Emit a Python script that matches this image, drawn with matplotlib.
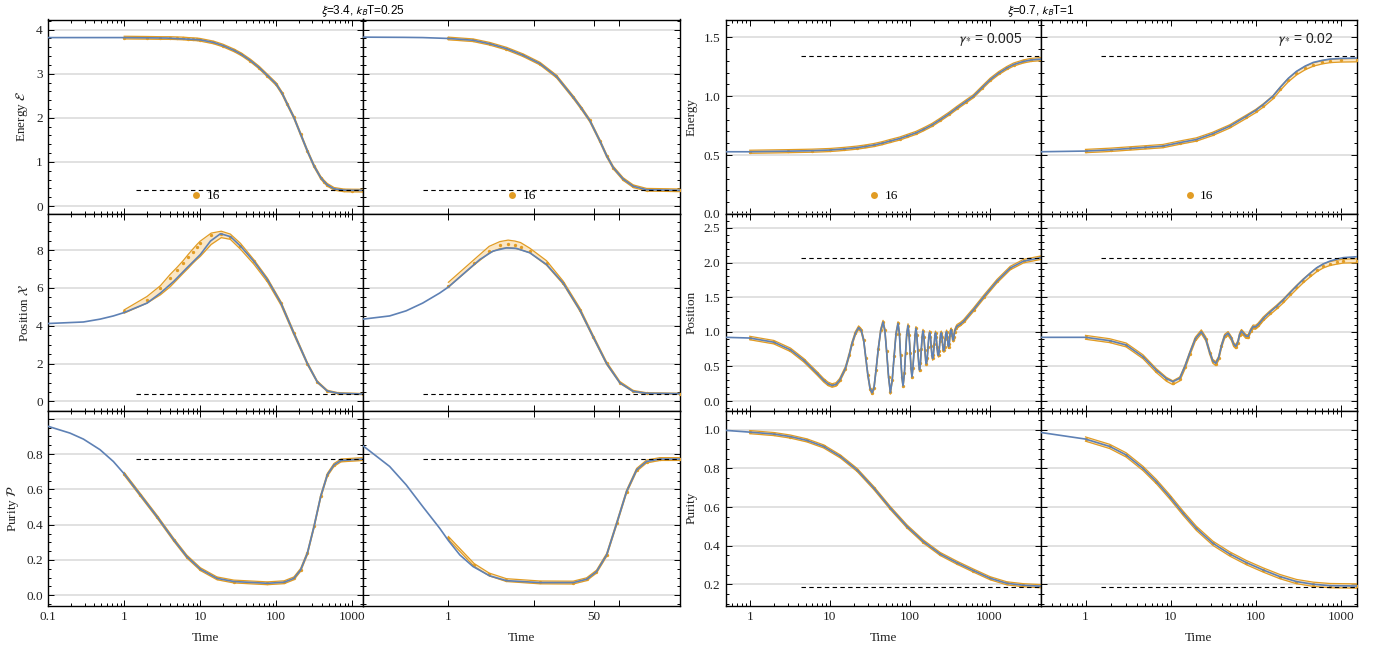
import numpy as np
import matplotlib
matplotlib.use("Agg")
import matplotlib.pyplot as plt
from matplotlib.ticker import (FixedLocator, FixedFormatter, NullLocator,
                               LogLocator, MultipleLocator, FormatStrFormatter)
from matplotlib.lines import Line2D

# ======================= DATA =======================
# ---- left group: xi=3.4, kBT=0.25 ----
# column A (log time 0.1 .. 1400)
tA_E = [0.1, 1, 3.6, 10, 15, 20, 28, 35, 46, 60, 77, 100, 120, 141, 172, 211, 259, 317, 388, 430, 475, 582, 789, 1000, 1400]
EA = [3.82, 3.82, 3.81, 3.77, 3.71, 3.64, 3.53, 3.44, 3.30, 3.14, 2.96, 2.77, 2.56, 2.31, 2.01, 1.63, 1.25, 0.91, 0.645,
      0.555, 0.48, 0.39, 0.36, 0.357, 0.357]
tA_E16 = [1, 2, 3, 4, 5, 6, 7, 8, 9, 10, 15, 20, 28, 35, 46, 60, 77, 100, 120, 141, 172, 211, 259, 317, 388, 430, 475,
          582, 789, 1000, 1400]
EA16 = [3.82, 3.815, 3.81, 3.81, 3.805, 3.80, 3.79, 3.785, 3.78, 3.77, 3.71, 3.64, 3.53, 3.44, 3.30, 3.14, 2.96, 2.77,
        2.56, 2.31, 2.01, 1.63, 1.25, 0.91, 0.645, 0.555, 0.48, 0.39, 0.355, 0.352, 0.35]
EA16_err = 0.03

tA_X = [0.1, 0.29, 0.48, 0.72, 1, 2, 3, 4.5, 6.7, 10.1, 13.7, 18.6, 25.2, 34.1, 51, 77, 116, 172, 259, 350, 475, 660, 1400]
XA = [4.12, 4.20, 4.35, 4.52, 4.70, 5.20, 5.73, 6.35, 7.06, 7.77, 8.48, 8.87, 8.71, 8.21, 7.41, 6.44, 5.20, 3.60, 2.00,
      1.03, 0.55, 0.43, 0.39]
tA_X16 = [1, 2, 3, 4, 5, 6, 7, 8, 9, 10, 14, 19, 25, 34, 51, 77, 116, 172, 259, 350, 475, 660, 1400]
XA16 = [4.76, 5.37, 5.98, 6.53, 6.97, 7.33, 7.65, 7.92, 8.18, 8.40, 8.78, 8.86, 8.72, 8.22, 7.40, 6.42, 5.20, 3.60,
        2.00, 1.03, 0.55, 0.43, 0.39]
XA16_hi = [4.84, 5.55, 6.12, 6.70, 7.10, 7.45, 7.78, 8.05, 8.28, 8.47, 8.90, 9.00, 8.85, 8.36, 7.50, 6.52, 5.28, 3.68,
           2.06, 1.08, 0.59, 0.46, 0.42]
XA16_lo = [4.67, 5.20, 5.64, 6.05, 6.45, 6.78, 7.05, 7.30, 7.50, 7.66, 8.30, 8.66, 8.57, 8.05, 7.26, 6.32, 5.10, 3.52,
           1.94, 0.99, 0.52, 0.40, 0.36]

tA_P = [0.1, 0.193, 0.29, 0.48, 0.72, 1, 1.63, 2.7, 4.5, 6.7, 10.1, 16.7, 27.8, 77, 128, 172, 211, 259, 317, 388, 475,
        582, 718, 1400]
PA = [0.957, 0.919, 0.885, 0.825, 0.758, 0.688, 0.569, 0.446, 0.314, 0.219, 0.148, 0.096, 0.078, 0.068, 0.074, 0.096,
      0.144, 0.238, 0.39, 0.56, 0.683, 0.739, 0.764, 0.772]
PA16_err = 0.008

# column B (log time 0.1 .. 515, ticks 1, 10, 50, 100)
tB_E = [0.1, 0.3, 0.5, 1, 1.94, 3.05, 4.78, 7.5, 11.8, 18.4, 28.9, 36, 45.2, 59.3, 71.3, 85.3, 111.5, 146, 209, 515]
EB = [3.83, 3.825, 3.82, 3.80, 3.76, 3.68, 3.57, 3.42, 3.23, 2.94, 2.47, 2.22, 1.94, 1.48, 1.14, 0.87, 0.61, 0.45,
      0.37, 0.357]
EB16_err = 0.03

tB_X = [0.1, 0.205, 0.32, 0.5, 0.79, 1, 1.62, 2.33, 3.33, 4.78, 6.26, 8.97, 14.1, 22.1, 34.6, 49.5, 71.3, 102, 146,
        209, 515]
XB = [4.35, 4.52, 4.79, 5.20, 5.73, 6.05, 6.88, 7.50, 7.95, 8.12, 8.09, 7.86, 7.24, 6.26, 4.84, 3.42, 2.00, 0.98, 0.53,
      0.43, 0.41]
tB_X16 = [1, 2, 3, 4, 5, 6, 7, 9, 14.1, 22.1, 34.6, 49.5, 71.3, 102, 146, 209, 515]
XB16 = [6.12, 7.33, 7.95, 8.25, 8.34, 8.28, 8.18, 7.98, 7.32, 6.28, 4.86, 3.43, 2.01, 1.00, 0.54, 0.43, 0.41]
XB16_hi = [6.30, 7.50, 8.20, 8.45, 8.53, 8.48, 8.40, 8.10, 7.44, 6.36, 4.94, 3.50, 2.08, 1.05, 0.58, 0.46, 0.43]
XB16_lo = [6.05, 7.22, 7.85, 8.08, 8.12, 8.10, 8.02, 7.86, 7.20, 6.20, 4.78, 3.36, 1.95, 0.95, 0.51, 0.41, 0.39]

tB_P = [0.1, 0.205, 0.32, 0.5, 0.79, 1, 1.36, 1.94, 3.05, 4.78, 11.8, 28.9, 41.5, 54.2, 71.3, 93.5, 122, 160, 209,
        300, 515]
PB = [0.847, 0.73, 0.626, 0.503, 0.38, 0.31, 0.229, 0.163, 0.11, 0.083, 0.072, 0.072, 0.091, 0.134, 0.229, 0.408,
      0.588, 0.711, 0.758, 0.772, 0.772]
tB_P16 = [1, 2, 3, 4.78, 11.8, 28.9, 41.5, 54.2, 71.3, 93.5, 122, 160, 209, 300, 515]
PB16 = [0.325, 0.172, 0.118, 0.086, 0.073, 0.072, 0.091, 0.134, 0.229, 0.408, 0.588, 0.711, 0.758, 0.772, 0.772]
PB16_err = 0.008

# ---- right group: xi=0.7, kBT=1 ----
# column C (gamma*=0.005)
tC_E = [0.5, 1, 3, 6, 10.2, 15, 21.9, 28, 35.7, 45, 57.6, 75, 93, 120, 149, 190, 241, 310, 389, 500, 628, 800, 1020,
        1300, 1640, 2000, 2650, 3300, 4400]
EC = [0.528, 0.528, 0.533, 0.537, 0.543, 0.552, 0.563, 0.573, 0.585, 0.60, 0.62, 0.64, 0.662, 0.688, 0.718, 0.755,
      0.80, 0.85, 0.90, 0.952, 0.999, 1.07, 1.14, 1.195, 1.238, 1.268, 1.294, 1.307, 1.314]
EC16_err = 0.013

tC_X = [0.5, 1.0, 2.0, 3.23, 4.73, 6.95, 8.41, 9.5, 10.7, 12.0, 13.3, 15.7, 17.5, 19.0, 21.0, 23.0, 24.8, 26.6, 28.3,
        30.0, 32.0, 33.9, 35.8, 38.0, 40.5, 43.5, 46.5, 49.0, 51.5, 54.5, 57.4, 60.5, 64.0, 67.5, 71.6, 74.5, 77.0,
        80.0, 82.7, 86.0, 89.0, 92.0, 95.5, 98.5, 101.5, 104, 107, 110, 113.5, 117, 120, 123, 126.5, 130, 133, 136.5,
        140, 143.5, 147, 151, 155, 158.5, 162, 166, 170, 174, 178, 182, 186, 190, 194, 198, 203, 207, 211, 215, 220,
        225, 230, 234, 239, 244, 249, 254, 259, 264, 269, 274, 279, 284, 290, 296, 302, 307, 313, 319, 326, 332, 339,
        345, 352, 358, 365, 378, 391, 430, 473, 631, 841, 1237, 1815, 2661, 4400]
XC = [0.92, 0.91, 0.85, 0.74, 0.59, 0.40, 0.30, 0.25, 0.225, 0.24, 0.30, 0.47, 0.66, 0.83, 0.98, 1.06, 1.02, 0.88,
      0.62, 0.38, 0.18, 0.12, 0.19, 0.45, 0.75, 1.02, 1.14, 1.02, 0.72, 0.35, 0.125, 0.30, 0.65, 0.97, 1.12, 0.97,
      0.66, 0.35, 0.22, 0.40, 0.70, 0.97, 1.09, 0.95, 0.70, 0.48, 0.35, 0.48, 0.72, 0.95, 1.05, 0.95, 0.74, 0.54,
      0.45, 0.55, 0.75, 0.93, 1.01, 0.92, 0.74, 0.60, 0.54, 0.62, 0.78, 0.93, 0.99, 0.93, 0.79, 0.66, 0.615, 0.67,
      0.82, 0.95, 0.985, 0.93, 0.78, 0.68, 0.66, 0.72, 0.86, 0.96, 0.985, 0.93, 0.81, 0.74, 0.73, 0.78, 0.90, 0.97,
      1.00, 0.93, 0.82, 0.785, 0.82, 0.95, 1.02, 1.03, 0.97, 0.90, 0.88, 0.93, 1.00, 1.05, 1.08, 1.11, 1.15, 1.32, 1.50,
      1.73, 1.92, 2.02, 2.07]
XC16_err = 0.025

tC_P = [0.5, 1, 2, 3.22, 5.2, 8.4, 13.6, 21.9, 35.7, 57.6, 93, 149, 241, 389, 628, 1020, 1640, 2650, 4400]
PC = [0.997, 0.988, 0.978, 0.965, 0.945, 0.914, 0.862, 0.793, 0.698, 0.594, 0.499, 0.421, 0.357, 0.312, 0.271, 0.231,
      0.205, 0.195, 0.19]
PC16_err = 0.008

# column D (gamma*=0.02)
tD_E = [0.3, 1, 2, 3.3, 5, 8.1, 12.7, 20, 31, 49.4, 77.6, 100, 122, 159, 191, 240, 300, 380, 473, 600, 742, 1000, 1530]
ED = [0.528, 0.534, 0.545, 0.556, 0.565, 0.576, 0.605, 0.632, 0.68, 0.745, 0.83, 0.88, 0.928, 1.0, 1.07, 1.15, 1.21,
      1.255, 1.286, 1.303, 1.314, 1.32, 1.323]
tD_E16 = [1, 2, 3.3, 5, 8.1, 12.7, 20, 31, 49.4, 77.6, 100, 122, 159, 191, 240, 300, 380, 473, 600, 742, 1000, 1530]
ED16 = [0.534, 0.545, 0.556, 0.565, 0.576, 0.605, 0.632, 0.679, 0.743, 0.826, 0.874, 0.92, 0.99, 1.058, 1.135, 1.193,
        1.238, 1.268, 1.287, 1.298, 1.303, 1.305]
ED16_err = 0.014

tD_X = [0.3, 1, 1.92, 3.0, 4.73, 6.78, 8.9, 10.6, 12.8, 14.7, 16.7, 19.5, 22.9, 25.8, 28.8, 31.2, 33.8, 36.5, 39.5, 43,
        47.2, 51.5, 55, 58.2, 61.5, 64.5, 67.8, 71.5, 76, 81.3, 87, 93, 99, 106, 113, 122, 145, 175, 210, 251, 300, 360,
        430, 518, 620, 742, 900, 1065, 1530]
XD = [0.92, 0.92, 0.872, 0.81, 0.64, 0.446, 0.325, 0.28, 0.33, 0.50, 0.688, 0.90, 1.0, 0.90, 0.70, 0.58, 0.545, 0.62,
      0.80, 0.94, 0.98, 0.91, 0.82, 0.79, 0.85, 0.96, 1.01, 0.98, 0.94, 0.935, 1.02, 1.075, 1.07, 1.10, 1.14, 1.19,
      1.28, 1.366, 1.46, 1.56, 1.66, 1.754, 1.84, 1.923, 1.98, 2.02, 2.05, 2.07, 2.083]
tD_X16 = [1, 1.92, 3.0, 4.73, 6.78, 8.9, 10.6, 12.8, 14.7, 16.7, 19.5, 22.9, 25.8, 28.8, 31.2, 33.8, 36.5, 39.5, 43,
          47.2, 51.5, 55, 58.2, 61.5, 64.5, 67.8, 71.5, 76, 81.3, 87, 93, 99, 106, 113, 122, 145, 175, 210, 251, 300,
          360, 430, 518, 620, 742, 900, 1065, 1530]
XD16 = [0.92, 0.872, 0.81, 0.64, 0.44, 0.315, 0.265, 0.32, 0.49, 0.68, 0.895, 1.0, 0.90, 0.70, 0.575, 0.54, 0.615,
        0.795, 0.935, 0.975, 0.905, 0.815, 0.785, 0.845, 0.955, 1.005, 0.975, 0.935, 0.93, 1.015, 1.07, 1.065, 1.095,
        1.135, 1.185, 1.27, 1.355, 1.445, 1.545, 1.64, 1.735, 1.815, 1.895, 1.95, 1.985, 2.005, 2.02, 2.025]
XD16_err = 0.028

tD_P = [0.3, 1, 1.92, 3.0, 4.73, 6.78, 9.7, 14, 20, 31.4, 49.4, 77.6, 122, 191, 300, 473, 742, 1530]
PD = [0.986, 0.952, 0.914, 0.870, 0.80, 0.732, 0.654, 0.568, 0.49, 0.412, 0.357, 0.312, 0.274, 0.24, 0.214, 0.20,
      0.193, 0.191]
PD16_err = 0.011

# stationary (dashed) levels and where the dashed line starts, per column
eq_E = [0.357, 0.357, 1.337, 1.337]
eq_X = [0.39, 0.39, 2.07, 2.07]
eq_P = [0.773, 0.772, 0.186, 0.184]
eq_tstart = [1.44, 0.51, 4.43, 1.53]

xlims = [(0.1, 1400), (0.1, 515), (0.5, 4400), (0.3, 1530)]
gamma_labels = ["", "", r"$\gamma_{*}$ = 0.005", r"$\gamma_{*}$ = 0.02"]
titles = [r"$\xi$=3.4, $k_B$T=0.25", r"$\xi$=0.7, $k_B$T=1"]
legend_label = "16"
T16_START = 1.0

# ======================= STYLE =======================
plt.rcParams['font.family'] = ['Liberation Serif', 'DejaVu Serif']
plt.rcParams['mathtext.fontset'] = 'stix'

BLUE = '#5E81B5'
ORANGE = '#E19C24'
FILL = '#FBE6C4'
GRID = '#D9D9D9'

W, H = 1378, 654
fig = plt.figure(figsize=(W / 100, H / 100), dpi=100)


def rect(x0, x1, y0, y1):
    return [x0 / W, 1 - y1 / H, (x1 - x0) / W, (y1 - y0) / H]


col_px = [(48.3, 363.0), (363.0, 680.0), (725.7, 1041.0), (1041.0, 1356.7)]
row_px = [(19.5, 214.0), (214.0, 410.5), (410.5, 605.7)]
axes = [[fig.add_axes(rect(*col_px[c], *row_px[r])) for c in range(4)] for r in range(3)]


def draw(ax, t_ref, y_ref, t16=None, mid=None, err=None, lo=None, hi=None):
    t_ref = np.asarray(t_ref, float)
    y_ref = np.asarray(y_ref, float)
    if t16 is None:
        m = t_ref >= T16_START
        t16, mid = t_ref[m], y_ref[m]
    t16 = np.asarray(t16, float)
    mid = np.asarray(mid, float)
    if lo is None:
        lo, hi = mid - err, mid + err
    ax.fill_between(t16, lo, hi, color=FILL, lw=0, zorder=2)
    ax.plot(t16, lo, color=ORANGE, lw=0.9, zorder=3)
    ax.plot(t16, hi, color=ORANGE, lw=0.9, zorder=3)
    ax.plot(t16, mid, ls='none', marker='o', ms=2.4, mew=0, color=ORANGE, zorder=3)
    ax.plot(t_ref, y_ref, color=BLUE, lw=1.2, zorder=4)


# column A
draw(axes[0][0], tA_E, EA, tA_E16, EA16, EA16_err)
draw(axes[1][0], tA_X, XA, tA_X16, XA16, lo=XA16_lo, hi=XA16_hi)
draw(axes[2][0], tA_P, PA, err=PA16_err)
# column B
draw(axes[0][1], tB_E, EB, err=EB16_err)
draw(axes[1][1], tB_X, XB, tB_X16, XB16, lo=XB16_lo, hi=XB16_hi)
draw(axes[2][1], tB_P, PB, tB_P16, PB16, PB16_err)
# column C
draw(axes[0][2], tC_E, EC, err=EC16_err)
draw(axes[1][2], tC_X, XC, err=XC16_err)
draw(axes[2][2], tC_P, PC, err=PC16_err)
# column D
draw(axes[0][3], tD_E, ED, tD_E16, ED16, ED16_err)
draw(axes[1][3], tD_X, XD, tD_X16, XD16, XD16_err)
draw(axes[2][3], tD_P, PD, err=PD16_err)

eqs = [eq_E, eq_X, eq_P]
ylims_left = [(-0.18, 4.23), (-0.48, 9.91), (-0.059, 1.047)]
ylims_right = [(0.0, 1.65), (-0.136, 2.70), (0.089, 1.10)]
ymaj_left = [1, 2, 0.2]
ymin_left = [0.2, 0.5, 0.05]
ymaj_right = [0.5, 0.5, 0.2]
ymin_right = [0.1, 0.1, 0.05]
ylab_left = [r'Energy $\mathcal{E}$', r'Position $\mathcal{X}$', r'Purity $\mathcal{P}$']
ylab_right = ['Energy', 'Position', 'Purity']

for r in range(3):
    for c in range(4):
        ax = axes[r][c]
        ax.set_xscale('log')
        ax.set_xlim(*xlims[c])
        left = c < 2
        ax.set_ylim(*(ylims_left[r] if left else ylims_right[r]))
        # x ticks
        if c == 1:
            ax.xaxis.set_major_locator(FixedLocator([1, 10, 50, 100]))
            ax.xaxis.set_major_formatter(FixedFormatter(['1', '', '50', '']))
            ax.xaxis.set_minor_locator(NullLocator())
        else:
            ax.xaxis.set_major_locator(LogLocator(base=10, numticks=12))
            ax.xaxis.set_minor_locator(LogLocator(base=10, subs=np.arange(2, 10), numticks=12))
            ax.xaxis.set_major_formatter(FormatStrFormatter('%g'))
        # y ticks
        if left:
            ax.yaxis.set_major_locator(MultipleLocator(ymaj_left[r]))
            ax.yaxis.set_minor_locator(MultipleLocator(ymin_left[r]))
            ax.yaxis.set_major_formatter(FormatStrFormatter('%.1f' if r == 2 else '%d'))
        else:
            ax.yaxis.set_major_locator(MultipleLocator(ymaj_right[r]))
            ax.yaxis.set_minor_locator(MultipleLocator(ymin_right[r]))
            ax.yaxis.set_major_formatter(FormatStrFormatter('%.1f'))
        if left and r == 2:
            ax.yaxis.set_major_locator(FixedLocator([0, 0.2, 0.4, 0.6, 0.8, 1.0]))
            ax.yaxis.set_major_formatter(FixedFormatter(['0.0', '0.2', '0.4', '0.6', '0.8', '']))
        ax.tick_params(which='both', direction='in', top=True, right=True, labelsize=9.5,
                       width=0.7, colors='black', labelcolor='#222222', pad=4)
        ax.tick_params(which='major', length=4)
        ax.tick_params(which='minor', length=2.3)
        ax.tick_params(labelbottom=(r == 2), labelleft=(c in (0, 2)))
        for s in ax.spines.values():
            s.set_linewidth(1.0)
        ax.grid(axis='y', which='major', color=GRID, lw=1.1, zorder=0)
        ax.set_axisbelow(True)
        # dashed stationary value
        ax.hlines(eqs[r][c], eq_tstart[c], xlims[c][1], colors='black', linestyles=(0, (4, 3)), lw=0.8, zorder=5)
        if r == 2:
            ax.set_xlabel('Time', fontsize=9.5, labelpad=6, color='#222222')
        if c == 0:
            ax.set_ylabel(ylab_left[r], fontsize=9.5, labelpad=4, color='#222222')
        if c == 2:
            ax.set_ylabel(ylab_right[r], fontsize=9.5, labelpad=4, color='#222222')
        if r == 0:
            h = Line2D([], [], ls='none', marker='o', ms=5, mew=0, color=ORANGE)
            ax.legend([h], [legend_label], loc='lower center', frameon=False, fontsize=9.5,
                      handlelength=0.8, handletextpad=0.4)
            if gamma_labels[c]:
                ax.text(0.94 if c == 2 else 0.925, 0.895, gamma_labels[c], transform=ax.transAxes,
                        ha='right', va='center', fontsize=10, family=['Liberation Sans', 'DejaVu Sans'],
                        math_fontfamily='stixsans', color='#222222')

fig.text(363 / W, 1 - 11 / H, titles[0], ha='center', va='center', fontsize=8.5,
         family=['Liberation Sans', 'DejaVu Sans'], math_fontfamily='stixsans')
fig.text(1041 / W, 1 - 11 / H, titles[1], ha='center', va='center', fontsize=8.5,
         family=['Liberation Sans', 'DejaVu Sans'], math_fontfamily='stixsans')

fig.savefig('out.png', dpi=100)
